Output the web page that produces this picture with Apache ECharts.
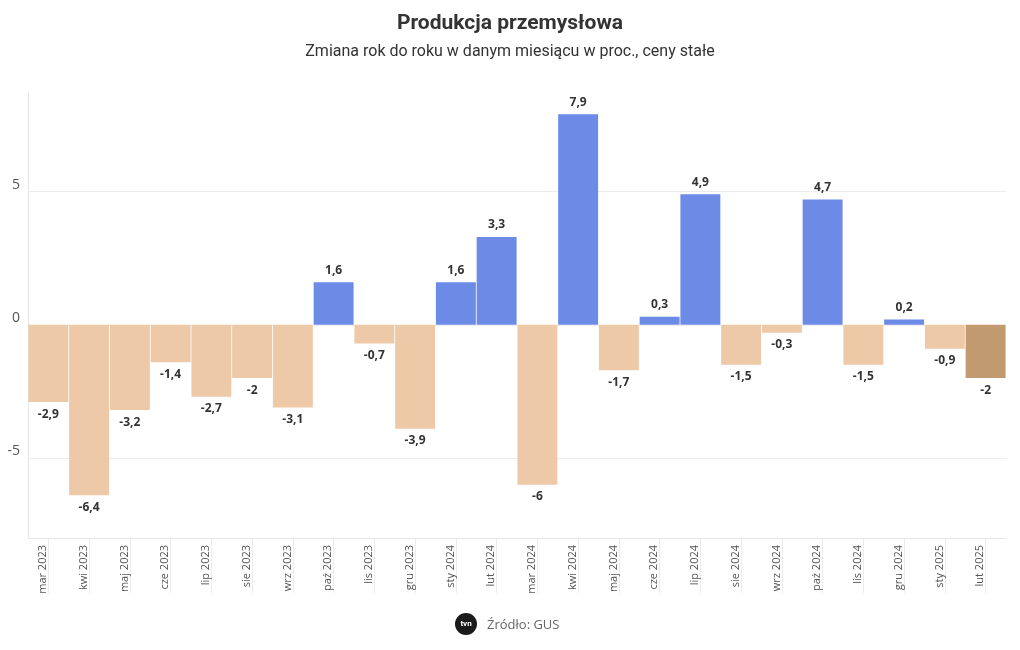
<!DOCTYPE html>
<html><head><meta charset="utf-8">
<script src="https://cdn.jsdelivr.net/npm/echarts@6/dist/echarts.min.js"></script>
<style>html,body{margin:0;padding:0;background:#fff}#c{width:1020px;height:650px}</style>
</head><body><div id="c"></div>
<script>
const categories = ['mar 2023','kwi 2023','maj 2023','cze 2023','lip 2023','sie 2023','wrz 2023','paź 2023','lis 2023','gru 2023','sty 2024','lut 2024','mar 2024','kwi 2024','maj 2024','cze 2024','lip 2024','sie 2024','wrz 2024','paź 2024','lis 2024','gru 2024','sty 2025','lut 2025'];
const values = [-2.9,-6.4,-3.2,-1.4,-2.7,-2,-3.1,1.6,-0.7,-3.9,1.6,3.3,-6,7.9,-1.7,0.3,4.9,-1.5,-0.3,4.7,-1.5,0.2,-0.9,-2];
const yTicks = [-5,0,5];

const POS = '#6b8be6', NEG = '#edc9a7', LAST = '#c19a70';
const chart = echarts.init(document.getElementById('c'));
const data = values.map((v,i)=>({
  value:v,
  itemStyle:{color: i===values.length-1 ? LAST : (v>=0?POS:NEG)},
  label:{position: v>=0?'top':'bottom'}
}));
chart.setOption({
  animation:false,
  title:{
    text:'Produkcja przemysłowa',
    subtext:'Zmiana rok do roku w danym miesiącu w proc., ceny stałe',
    left:'center', top:8, itemGap:10,
    textStyle:{fontFamily:'Roboto',fontSize:21,fontWeight:'bold',color:'#333'},
    subtextStyle:{fontFamily:'Roboto',fontSize:16,color:'#333'}
  },
  grid:{left:28,right:14,top:93,bottom:112},
  xAxis:{
    type:'category', data:categories,
    axisLine:{onZero:false,lineStyle:{color:'#e6e6e6'}},
    axisTick:{show:true,alignWithLabel:true,length:55,lineStyle:{color:'#ececec'}},
    axisLabel:{rotate:90,margin:7,verticalAlign:'bottom',fontFamily:'Open Sans',fontSize:11,color:'#555'}
  },
  yAxis:{
    type:'value', min:-8, max:8.7,
    axisLine:{show:true,lineStyle:{color:'#e6e6e6'}},
    axisTick:{show:false,customValues:yTicks},
    axisLabel:{customValues:yTicks,fontFamily:'Open Sans',fontSize:14,color:'#555',margin:8,verticalAlign:'bottom'},
    splitLine:{show:true,lineStyle:{color:'#ececec'}}
  },
  series:[{
    type:'bar', data:data, barCategoryGap:'2%',
    label:{show:true,fontFamily:'Open Sans',fontWeight:'bold',fontSize:12,color:'#333',distance:6,
      formatter:p=>String(p.value).replace('.',',')}
  }],
  graphic:[
    {type:'circle',shape:{cx:466,cy:624,r:11},style:{fill:'#1a1a1a'}},
    {type:'text',style:{x:466,y:624,text:'tvn',fill:'#fff',font:'bold 8px Roboto',align:'center',verticalAlign:'middle'}},
    {type:'text',style:{x:487,y:625,text:'Źródło: GUS',fill:'#666',font:'13px Open Sans',verticalAlign:'middle'}}
  ]
});
</script></body></html>
